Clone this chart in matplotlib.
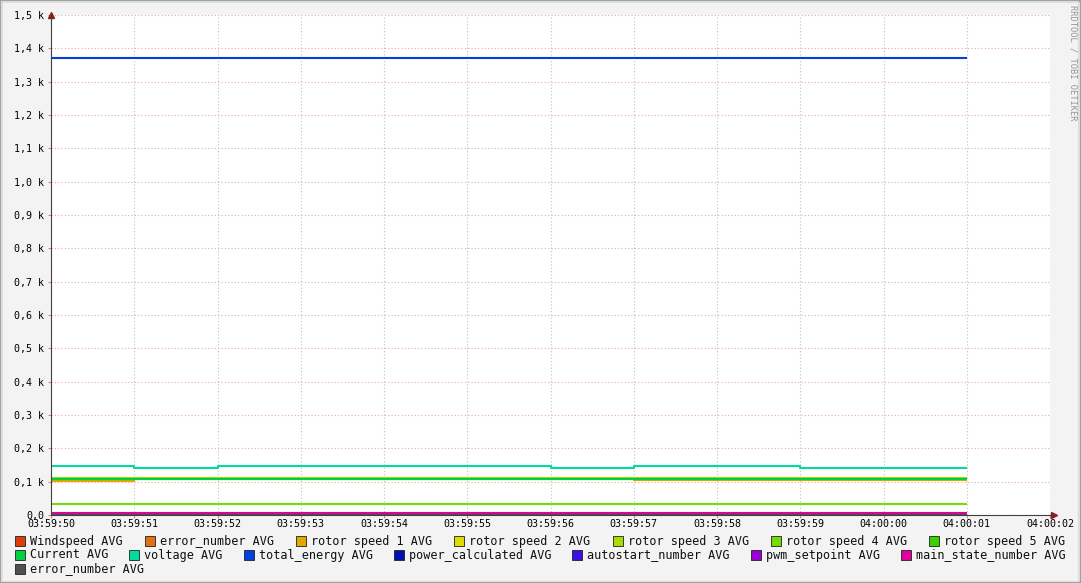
import numpy as np
import matplotlib.pyplot as plt
from matplotlib.patches import Rectangle

W, H = 1081, 583

# Rótulos do eixo X (um por segundo)
time_labels = ['03:59:50', '03:59:51', '03:59:52', '03:59:53', '03:59:54', '03:59:55',
               '03:59:56', '03:59:57', '03:59:58', '03:59:59', '04:00:00', '04:00:01', '04:00:02']
y_ticks = [0, 100, 200, 300, 400, 500, 600, 700, 800, 900, 1000, 1100, 1200, 1300, 1400, 1500]
y_labels = ['0,0', '0,1 k', '0,2 k', '0,3 k', '0,4 k', '0,5 k', '0,6 k', '0,7 k',
            '0,8 k', '0,9 k', '1,0 k', '1,1 k', '1,2 k', '1,3 k', '1,4 k', '1,5 k']

# Valores médios por intervalo de 1 s (03:59:50 -> 04:00:01, 11 intervalos)
windspeed = [3, 3, 3, 3, 3, 3, 3, 3, 3, 3, 3]
error_number = [0, 0, 0, 0, 0, 0, 0, 0, 0, 0, 0]
rotor_speed_1 = [101, 107, 107, 107, 107, 107, 107, 104, 104, 104, 104]
rotor_speed_2 = [112, 112, 112, 112, 112, 112, 112, 112, 112, 112, 112]
rotor_speed_3 = [110, 110, 110, 110, 110, 110, 110, 110, 110, 110, 110]
rotor_speed_4 = [34, 34, 34, 34, 34, 34, 34, 34, 34, 34, 34]
rotor_speed_5 = [109, 109, 109, 109, 109, 109, 109, 109, 109, 109, 109]
current = [108, 108, 108, 108, 108, 108, 108, 108, 108, 108, 108]
voltage = [146, 142, 146, 146, 146, 146, 142, 146, 146, 142, 142]
total_energy = [1371, 1371, 1371, 1371, 1371, 1371, 1371, 1371, 1371, 1371, 1371]
power_calculated = [0, 0, 0, 0, 0, 0, 0, 0, 0, 0, 0]
autostart_number = [0, 0, 0, 0, 0, 0, 0, 0, 0, 0, 0]
pwm_setpoint = [0, 0, 0, 0, 0, 0, 0, 0, 0, 0, 0]
main_state_number = [5, 5, 5, 5, 5, 5, 5, 5, 5, 5, 5]
error_number_2 = [0, 0, 0, 0, 0, 0, 0, 0, 0, 0, 0]

series = [
    ('Windspeed AVG', windspeed, '#e03c0a'),
    ('error_number AVG', error_number, '#e07010'),
    ('rotor speed 1 AVG', rotor_speed_1, '#e0a800'),
    ('rotor speed 2 AVG', rotor_speed_2, '#dcdc00'),
    ('rotor speed 3 AVG', rotor_speed_3, '#a8dc00'),
    ('rotor speed 4 AVG', rotor_speed_4, '#74dc00'),
    ('rotor speed 5 AVG', rotor_speed_5, '#3cd000'),
    ('Current AVG', current, '#00d040'),
    ('voltage AVG', voltage, '#00dca0'),
    ('total_energy AVG', total_energy, '#0040e0'),
    ('power_calculated AVG', power_calculated, '#0010b0'),
    ('autostart_number AVG', autostart_number, '#3c10e0'),
    ('pwm_setpoint AVG', pwm_setpoint, '#9c00d8'),
    ('main_state_number AVG', main_state_number, '#e000a0'),
    ('error_number AVG', error_number_2, '#505050'),
]

BG = '#f3f3f3'
FONT = 'DejaVu Sans Mono'
FS = 8.5      # legenda
FS_TICK = 7.2 # rótulos dos eixos

fig = plt.figure(figsize=(W / 100, H / 100), dpi=100, facecolor=BG)

# moldura estilo rrdtool
fig.patches.append(Rectangle((0, 0), 1, 1, transform=fig.transFigure, fill=False,
                             edgecolor='#a0a0a0', linewidth=2.5))
fig.patches.append(Rectangle((0.0005, 0.003), 0.997, 0.995, transform=fig.transFigure, fill=False,
                             edgecolor='#dcdcdc', linewidth=0.8))

left, right, top, bottom = 51, 1050, 15, 515
ax = fig.add_axes([left / W, 1 - bottom / H, (right - left) / W, (bottom - top) / H])
ax.set_facecolor('white')

x = np.arange(len(time_labels) - 1)
for name, vals, col in series:
    yv = list(vals) + [vals[-1]]
    ax.step(x, yv, where='post', color=col, linewidth=1.5, solid_capstyle='butt')

ax.set_xlim(0, len(time_labels) - 1)
ax.set_ylim(0, 1500)
ax.set_xticks(range(len(time_labels)))
ax.set_xticklabels(time_labels, fontfamily=FONT, fontsize=FS_TICK)
ax.set_yticks(y_ticks)
ax.set_yticklabels(y_labels, fontfamily=FONT, fontsize=FS_TICK)
ax.tick_params(axis='x', length=2, pad=1, color='#e08080')
ax.tick_params(axis='y', length=2, pad=3, color='#e08080')

ax.grid(True, axis='x', color='#c0c0c0', linestyle=(0, (1, 2)), linewidth=0.8)
ax.grid(True, axis='y', color='#e8a8a8', linestyle=(0, (1, 2)), linewidth=0.8)
ax.set_axisbelow(True)
for s in ['top', 'right']:
    ax.spines[s].set_visible(False)
for s in ['left', 'bottom']:
    ax.spines[s].set_color('#404040')
    ax.spines[s].set_linewidth(0.8)

# setas dos eixos
ax.plot(0, 1.0, marker='^', color='#901c1c', markersize=4, transform=ax.transAxes, clip_on=False)
ax.plot(1.004, 0, marker='>', color='#901c1c', markersize=4, transform=ax.transAxes, clip_on=False)
ax.plot([1.0, 1.004], [0, 0], color='#404040', lw=0.8, transform=ax.transAxes, clip_on=False)

# marca d'água
fig.text(1073 / W, 1 - 5 / H, 'RRDTOOL / TOBI OETIKER', rotation=-90, ha='center', va='top',
         fontfamily=FONT, fontsize=6.3, color='#959595')

# legenda justificada
char_w = FS / 72 * 100 * 0.602
rows = [series[0:7], series[7:14], series[14:15]]
row_y = [541, 555, 569]
x0, x1 = 15, 1065
for r, items in enumerate(rows):
    widths = [15 + char_w * len(n) for n, _, _ in items]
    if len(items) > 1:
        gap = (x1 - x0 - sum(widths)) / (len(items) - 1)
    else:
        gap = 0
    xp = x0
    for (name, _, col), w in zip(items, widths):
        fig.patches.append(Rectangle((xp / W, 1 - (row_y[r] + 5) / H), 10 / W, 10 / H,
                                     transform=fig.transFigure, facecolor=col,
                                     edgecolor='#202020', linewidth=0.6))
        fig.text((xp + 15) / W, 1 - row_y[r] / H, name, ha='left', va='center',
                 fontfamily=FONT, fontsize=FS, color='#101010')
        xp += w + gap

fig.savefig('out.png', dpi=100, facecolor=BG)
